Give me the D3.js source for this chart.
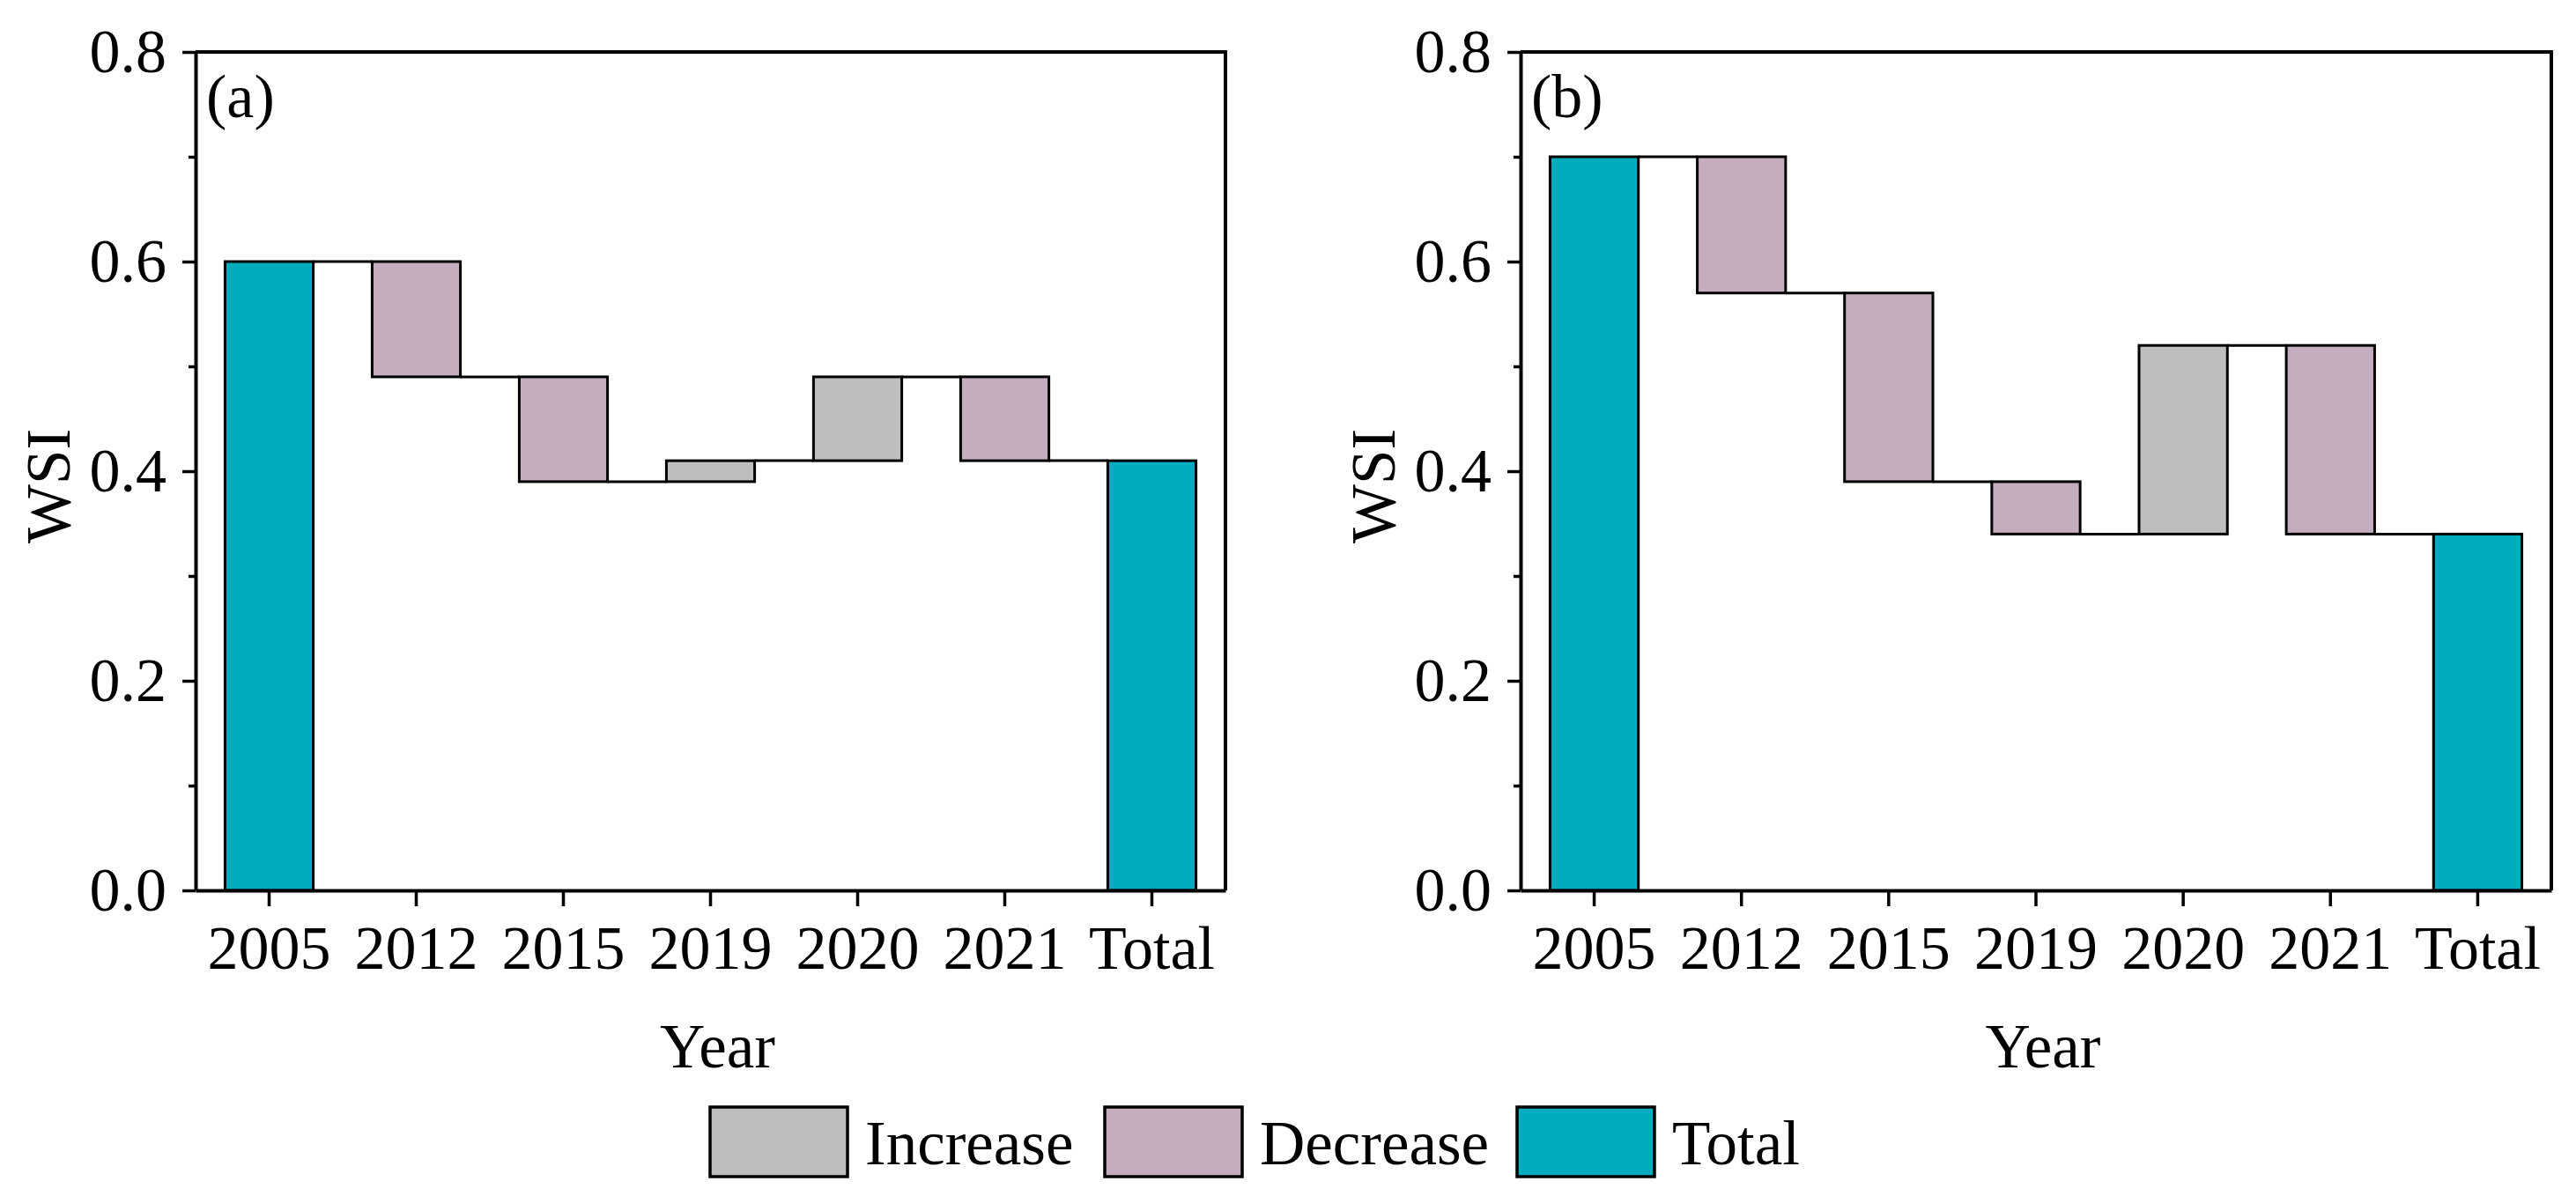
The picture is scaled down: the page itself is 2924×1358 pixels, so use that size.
<!DOCTYPE html>
<meta charset="utf-8">
<script src="https://d3js.org/d3.v7.min.js"></script>
<head>
<style>
  body { margin: 0; background: #fff; }
  svg text { font-family: "Times New Roman", "Liberation Serif", Times, serif; fill: #000; }
</style>
</head>
<body>
<div id="my_dataviz"></div>
<script>
// categories and running WSI level after each step
var years = ["2005", "2012", "2015", "2019", "2020", "2021", "Total"];
var levelsA = [0.60, 0.49, 0.39, 0.41, 0.49, 0.41, 0.41];
var levelsB = [0.70, 0.57, 0.39, 0.34, 0.52, 0.34, 0.34];
var yTicks = [0, 0.2, 0.4, 0.6, 0.8];
var yMinor = [0.1, 0.3, 0.5, 0.7];
var legendNames = ["Increase", "Decrease", "Total"];

var colors = {Increase: "#bebebe", Decrease: "#c4adbf", Total: "#00adbf"};
var serif = "'Times New Roman', 'Liberation Serif', Times, serif";

var W = 2924, H = 1358;
var svg = d3.select("#my_dataviz")
  .append("svg")
    .attr("width", W)
    .attr("height", H)
    .style("font-family", serif);

// build waterfall rows from the levels
function rows(levels) {
  return levels.map(function(v, i) {
    if (i == 0 || i == levels.length - 1)
      return {cat: years[i], lo: 0, hi: v, type: "Total", end: v};
    var p = levels[i - 1];
    return {cat: years[i], lo: Math.min(p, v), hi: Math.max(p, v),
            type: v > p ? "Increase" : "Decrease", end: v};
  });
}

function panel(left, right, levels, tag, labelX) {
  var top = 59, bottom = 1011;
  var g = svg.append("g");

  var x = d3.scaleBand()
    .domain(years)
    .range([left, right])
    .paddingInner(0.4)
    .paddingOuter(0.2);

  var y = d3.scaleLinear()
    .domain([0, 0.8])
    .range([bottom, top]);

  var data = rows(levels);

  // connectors
  g.append("g").selectAll("line")
    .data(data.slice(0, -1))
    .enter()
    .append("line")
      .attr("x1", function(d) { return x(d.cat) + x.bandwidth(); })
      .attr("x2", function(d, i) { return x(years[i + 1]); })
      .attr("y1", function(d) { return y(d.end); })
      .attr("y2", function(d) { return y(d.end); })
      .attr("stroke", "#000")
      .attr("stroke-width", 3);

  // bars
  g.append("g").selectAll("rect")
    .data(data)
    .enter()
    .append("rect")
      .attr("x", function(d) { return x(d.cat); })
      .attr("y", function(d) { return y(d.hi); })
      .attr("width", x.bandwidth())
      .attr("height", function(d) { return y(d.lo) - y(d.hi); })
      .style("fill", function(d) { return colors[d.type]; })
      .attr("stroke", "#000")
      .attr("stroke-width", 3);

  // top and right frame
  g.append("path")
    .attr("d", "M" + left + "," + top + "H" + right + "V" + bottom)
    .attr("fill", "none")
    .attr("stroke", "#000")
    .attr("stroke-width", 4);

  // Y axis
  g.append("g")
    .attr("transform", "translate(" + left + ",0)")
    .call(d3.axisLeft(y).tickValues(yTicks).tickFormat(d3.format(".1f"))
      .tickSize(15).tickSizeOuter(0).tickPadding(18));
  g.append("g")
    .attr("transform", "translate(" + left + ",0)")
    .call(d3.axisLeft(y).tickValues(yMinor).tickFormat("").tickSize(8).tickSizeOuter(0))
    .select(".domain").remove();

  // X axis
  g.append("g")
    .attr("transform", "translate(0," + bottom + ")")
    .call(d3.axisBottom(x).tickSize(18).tickSizeOuter(0).tickPadding(21));

  g.selectAll(".domain").attr("stroke-width", 4);
  g.selectAll(".tick line").attr("stroke-width", 3.5);
  g.selectAll(".tick text").style("font-size", "70px")
    .attr("font-family", null);

  g.append("text")
    .attr("x", left + 12)
    .attr("y", 133)
    .style("font-size", "70px")
    .text(tag);

  g.append("text")
    .attr("text-anchor", "middle")
    .attr("x", (left + right) / 2 + 8)
    .attr("y", 1212)
    .style("font-size", "71px")
    .text("Year");

  g.append("text")
    .attr("text-anchor", "middle")
    .attr("transform", "translate(" + labelX + ",552) rotate(-90)")
    .style("font-size", "71px")
    .text("WSI");
}

panel(222, 1391, levelsA, "(a)", 79);
panel(1726, 2896, levelsB, "(b)", 1583);

// legend
var legX = [806, 1254, 1722];
var lg = svg.append("g").selectAll("g")
  .data(legendNames)
  .enter()
  .append("g")
    .attr("transform", function(d, i) { return "translate(" + legX[i] + ",1257)"; });

lg.append("rect")
  .attr("width", 156)
  .attr("height", 79)
  .style("fill", function(d) { return colors[d]; })
  .attr("stroke", "#000")
  .attr("stroke-width", 3.5);

lg.append("text")
  .attr("x", 176)
  .attr("y", 65)
  .style("font-size", "71px")
  .text(function(d) { return d; });
</script>
</body>
